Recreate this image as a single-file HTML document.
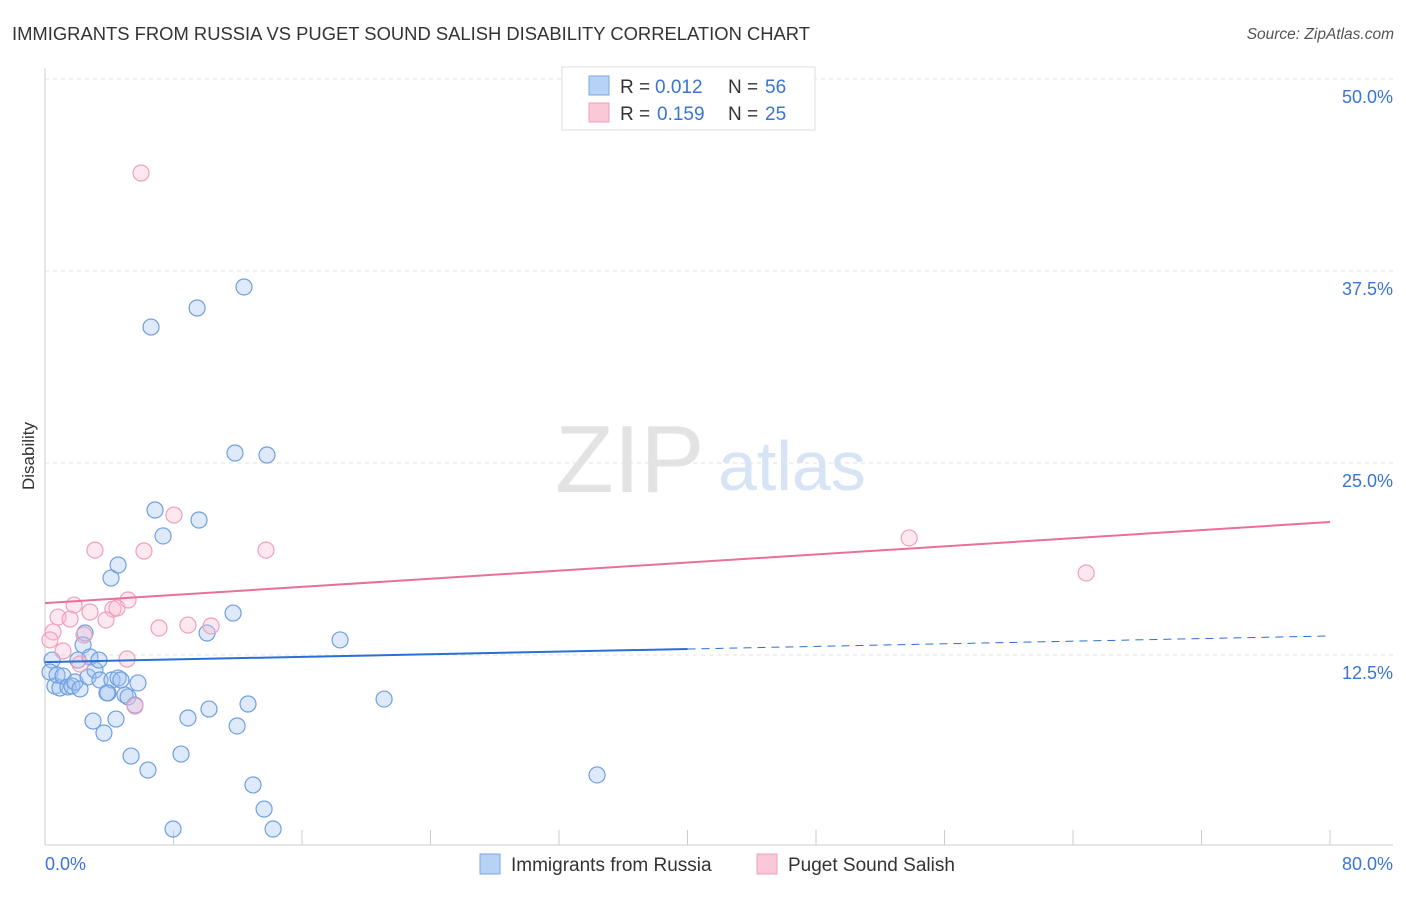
<!DOCTYPE html>
<html><head><meta charset="utf-8"><style>
body{margin:0;background:#fff;font-family:"Liberation Sans",sans-serif}
svg text{font-family:"Liberation Sans",sans-serif}
</style></head><body>
<svg width="1406" height="892">
<text x="12" y="40" font-size="18" fill="#333" textLength="798" lengthAdjust="spacingAndGlyphs">IMMIGRANTS FROM RUSSIA VS PUGET SOUND SALISH DISABILITY CORRELATION CHART</text>
<text x="1394" y="39" font-size="15.5" fill="#555" text-anchor="end" font-style="italic">Source: ZipAtlas.com</text>
<text x="555" y="492" font-size="96" fill="#e3e3e3" font-family="Liberation Serif">ZIP</text>
<text x="718" y="490" font-size="70" fill="#d6e4f5">atlas</text>
<g id="grid"></g>
<line x1="45" y1="68" x2="45" y2="845" stroke="#ccc"/>
<line x1="45" y1="845" x2="1393" y2="845" stroke="#ccc"/>
<text x="34" y="456" font-size="17" fill="#333" text-anchor="middle" transform="rotate(-90 34 456)">Disability</text>
<text x="45" y="870" font-size="18" fill="#3a74d4">0.0%</text>
<text x="1393" y="870" font-size="18" fill="#3a74d4" text-anchor="end">80.0%</text>
<g id="marks"></g>
<g>
<rect x="562" y="67" width="253" height="63" fill="#fff" stroke="#ddd"/>
<rect x="589" y="76" width="20" height="19" fill="#b8d2f5" stroke="#7aa6e6"/>
<rect x="589" y="103" width="20" height="19" fill="#fbc8d8" stroke="#f0a0b8"/>
<text x="620" y="93" font-size="19" fill="#333">R =</text>
<text x="655" y="93" font-size="19" fill="#3a74d4">0.012</text>
<text x="728" y="93" font-size="19" fill="#333">N =</text>
<text x="765" y="93" font-size="19" fill="#3a74d4">56</text>
<text x="620" y="120" font-size="19" fill="#333">R =</text>
<text x="657" y="120" font-size="19" fill="#3a74d4">0.159</text>
<text x="728" y="120" font-size="19" fill="#333">N =</text>
<text x="765" y="120" font-size="19" fill="#3a74d4">25</text>
</g>
<g>
<rect x="480" y="854" width="20" height="20" fill="#b8d2f5" stroke="#7aa6e6"/>
<text x="511" y="871" font-size="19" fill="#333">Immigrants from Russia</text>
<rect x="757" y="854" width="20" height="20" fill="#fbc8d8" stroke="#f0a0b8"/>
<text x="788" y="871" font-size="19" fill="#333">Puget Sound Salish</text>
</g>
</svg>
<script>
const yTicks=[12.5,25,37.5,50];
const yTickLabels=["12.5%","25.0%","37.5%","50.0%"];
const xTicks=[8,16,24,32,40,48,56,64,72,80];
const blueX=[0.44,0.62,0.31,0.93,0.75,1.12,1.43,1.68,1.87,2.18,2.05,2.49,2.37,2.68,2.80,3.11,3.36,3.42,2.99,3.67,3.92,4.17,4.55,4.42,4.98,5.17,5.79,5.36,6.41,5.60,4.11,4.55,6.85,7.35,6.60,9.47,12.39,11.83,13.82,9.59,11.71,10.09,18.37,21.11,12.64,10.21,8.90,11.96,8.47,12.95,13.64,14.20,7.97,34.37,3.86,4.73];
const blueY=[12.17,10.48,11.39,10.35,11.20,11.13,10.42,10.48,10.74,10.29,12.17,13.93,13.15,11.07,12.37,11.52,12.17,10.87,8.20,7.42,10.03,10.87,11.00,8.33,9.90,9.77,10.68,5.92,5.01,9.24,17.51,18.36,21.94,20.25,33.85,35.09,36.46,25.65,25.52,21.29,15.23,13.93,13.48,9.63,9.31,8.98,8.40,7.88,6.05,4.04,2.47,1.17,1.17,4.69,10.03,10.87];
const pinkX=[5.98,8.03,3.11,6.16,13.76,53.80,64.82,1.81,2.80,4.23,5.17,0.81,1.56,3.80,4.48,0.50,2.43,7.10,8.90,10.34,5.11,5.60,1.12,2.18,0.31];
const pinkY=[43.88,21.61,19.33,19.27,19.33,20.12,17.84,15.75,15.30,15.49,16.08,14.97,14.84,14.78,15.56,14.00,13.80,14.26,14.45,14.39,12.24,9.18,12.76,11.91,13.48];
const blueTrend=[12.04,13.74];
const pinkTrend=[15.88,21.16];
const X=v=>45+v*(1285/80), Y=v=>847-v*(192/12.5);
const NS="http://www.w3.org/2000/svg";
function mk(t,a,p){const e=document.createElementNS(NS,t);for(const k in a)e.setAttribute(k,a[k]);p.appendChild(e);return e;}
const g=document.getElementById('grid'), m=document.getElementById('marks');
yTicks.forEach((v,i)=>{
 const l=mk('line',{x1:45,x2:1393,y1:Y(v),y2:Y(v),stroke:'#e2e2e2','stroke-dasharray':'4 4'},g);
 
 
 const t=mk('text',{x:1393,y:Y(v)+24,'font-size':18,fill:'#3a74d4','text-anchor':'end'},g);
 t.textContent=yTickLabels[i];
 
 
});
xTicks.forEach(v=>{
 const l=mk('line',{x1:X(v),x2:X(v),y1:830,y2:845,stroke:'#ccc'},g);
 
 
});
blueX.forEach((x,i)=>{
 const c=mk('circle',{cx:X(x),cy:Y(blueY[i]),r:8,fill:'rgba(160,195,240,0.35)',stroke:'#6f9fe0','stroke-width':1.2},m);
 
 
});
pinkX.forEach((x,i)=>{
 const c=mk('circle',{cx:X(x),cy:Y(pinkY[i]),r:8,fill:'rgba(250,190,210,0.35)',stroke:'#f0a0b8','stroke-width':1.2},m);
 
 
});
const bm=blueTrend[0]+(blueTrend[1]-blueTrend[0])*(40/80);
let l=mk('line',{x1:X(0),y1:Y(blueTrend[0]),x2:X(40),y2:Y(bm),stroke:'#2a6fd6','stroke-width':2},m);


l=mk('line',{x1:X(40),y1:Y(bm),x2:X(80),y2:Y(blueTrend[1]),stroke:'#2a6fd6','stroke-width':1,'stroke-dasharray':'8 6'},m);


l=mk('line',{x1:X(0),y1:Y(pinkTrend[0]),x2:X(80),y2:Y(pinkTrend[1]),stroke:'#e8709a','stroke-width':2},m);


</script>
</body></html>
